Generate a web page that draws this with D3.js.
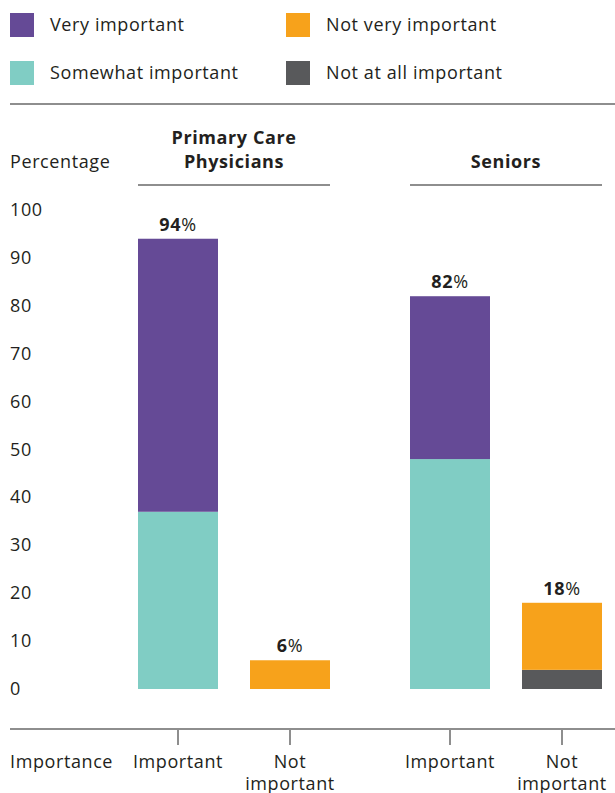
<!DOCTYPE html>
<html><head><meta charset="utf-8">
<script src="https://cdn.jsdelivr.net/npm/d3@7"></script>
<style>body{margin:0;background:#fff}svg{display:block}text{font-family:"Open Sans",sans-serif;fill:#231f20;letter-spacing:0.6px}</style>
</head><body><svg id="c" width="615" height="793"></svg>
<script>
const groups = ["Primary Care Physicians", "Seniors"];
const groupLines = [["Primary Care", "Physicians"], ["Seniors"]];
const categories = ["Important", "Not important"];
const categoryLines = [["Important"], ["Not", "important"]];
const seriesNames = ["Not at all important", "Not very important", "Somewhat important", "Very important"];
const notAtAll = [[0, 0], [0, 4]];
const notVery = [[0, 6], [0, 14]];
const somewhat = [[37, 0], [48, 0]];
const very = [[57, 0], [34, 0]];
const totals = [[94, 6], [82, 18]];
const yTicks = [0, 10, 20, 30, 40, 50, 60, 70, 80, 90, 100];
const colors = {"Very important":"#654a96","Somewhat important":"#80cdc4","Not very important":"#f7a21b","Not at all important":"#58595b"};
const legendOrder = [["Very important","Not very important"],["Somewhat important","Not at all important"]];

const svg = d3.select("#c");
const lineCol = "#8e8e8e";
const fs = 18;

// legend
legendOrder.forEach((row, r) => row.forEach((name, c) => {
  const x = 10 + c * 276, y = 13 + r * 48;
  svg.append("rect").attr("x", x).attr("y", y).attr("width", 24).attr("height", 24).attr("fill", colors[name]);
  svg.append("text").attr("x", x + 40).attr("y", y + 18).attr("font-size", fs).text(name);
}));
svg.append("line").attr("x1", 10).attr("x2", 615).attr("y1", 104).attr("y2", 104).attr("stroke", lineCol).attr("stroke-width", 2);

const y = d3.scaleLinear().domain([0, 100]).range([689, 210]);
const xg = d3.scaleBand().domain(groups).range([138, 602]).paddingInner(80/272);
const xc = d3.scaleBand().domain(categories).range([0, xg.bandwidth()]).paddingInner(32/112);

// y axis labels
svg.append("text").attr("x", 10).attr("y", 168).attr("font-size", fs).text("Percentage");
svg.selectAll(".yt").data(yTicks).join("text").attr("class","yt")
  .attr("x", 10).attr("y", d => y(d) + 6).attr("font-size", fs).text(d => d);

// group headers
groups.forEach((g, gi) => {
  const cx = xg(g) + xg.bandwidth()/2;
  const lines = groupLines[gi];
  lines.forEach((l, li) => {
    svg.append("text").attr("x", cx).attr("y", 168 - (lines.length - 1 - li) * 24)
      .attr("text-anchor", "middle").attr("font-size", fs).attr("font-weight", "bold").text(l);
  });
  svg.append("line").attr("x1", xg(g)).attr("x2", xg(g) + xg.bandwidth()).attr("y1", 185).attr("y2", 185)
    .attr("stroke", lineCol).attr("stroke-width", 2);
});

// stacked bars
const seriesData = {"Not at all important": notAtAll, "Not very important": notVery, "Somewhat important": somewhat, "Very important": very};
groups.forEach((g, gi) => {
  categories.forEach((c, ci) => {
    let base = 0;
    const x0 = xg(g) + xc(c);
    seriesNames.forEach(s => {
      const v = seriesData[s][gi][ci];
      if (v > 0) {
        svg.append("rect").attr("x", x0).attr("width", xc.bandwidth())
          .attr("y", y(base + v)).attr("height", y(base) - y(base + v)).attr("fill", colors[s]);
      }
      base += v;
    });
    const t = svg.append("text").attr("x", x0 + xc.bandwidth()/2).attr("y", y(totals[gi][ci]) - 8)
      .attr("text-anchor", "middle").attr("font-size", fs);
    t.append("tspan").attr("font-weight", "bold").text(totals[gi][ci]);
    t.append("tspan").text("%");
  });
});

// x axis
svg.append("line").attr("x1", 10).attr("x2", 615).attr("y1", 729).attr("y2", 729).attr("stroke", lineCol).attr("stroke-width", 2);
svg.append("text").attr("x", 10).attr("y", 768).attr("font-size", fs).text("Importance");
groups.forEach(g => categories.forEach((c, ci) => {
  const cx = xg(g) + xc(c) + xc.bandwidth()/2;
  svg.append("line").attr("x1", cx).attr("x2", cx).attr("y1", 729).attr("y2", 745).attr("stroke", lineCol).attr("stroke-width", 2);
  categoryLines[ci].forEach((l, li) => {
    svg.append("text").attr("x", cx).attr("y", 768 + li * 22).attr("text-anchor", "middle").attr("font-size", fs).text(l);
  });
}));
</script></body></html>
